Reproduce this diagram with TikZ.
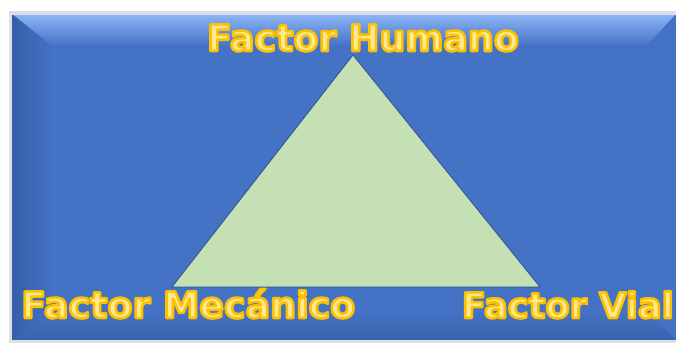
\documentclass[tikz,border=0pt]{standalone}
\usepackage{fontspec}
\setmainfont{DejaVu Sans}

\definecolor{bluebase}{HTML}{4472C4}
\definecolor{bluelight}{HTML}{8DB6F7}
\definecolor{bluedark}{HTML}{3560A8}
\definecolor{trifill}{HTML}{C5E0B4}
\definecolor{triline}{HTML}{2F528F}
\definecolor{textyellow}{HTML}{FFE98F}

% fill the glyphs and stroke them in orange
\newcommand{\glowtext}[1]{%
  \special{pdf:literal direct 2 Tr 1 0.753 0 RG 1.9 w 1 j}#1%
  \special{pdf:literal direct 0 Tr}}

\begin{document}
\begin{tikzpicture}[
  x=0.75pt, y=-0.75pt,
  every node/.style={inner sep=0pt},
  factor/.style={font=\fontsize{27.3}{28}\selectfont\bfseries, text=textyellow},
  tri/.style={fill=trifill, draw=triline, line width=0.6pt, line join=miter}]

  \useasboundingbox (0,0) rectangle (676,348);

  % panel with bevel
  \fill[black!12] (9,11) rectangle (676,343);
  \fill[bluebase] (12,14) rectangle (676,340);
  \shade[top color=bluelight, bottom color=bluebase]
    (12,14) -- (676,14) -- (646,46) -- (52,46) -- cycle;
  \shade[left color=bluedark, right color=bluebase]
    (12,14) -- (52,46) -- (52,312) -- (12,340) -- cycle;
  \shade[top color=bluebase, bottom color=bluedark!85!bluebase]
    (12,340) -- (52,312) -- (646,312) -- (676,340) -- cycle;
  \fill[white!60!bluelight] (12,14) rectangle (676,15.5);

  % corners of the triangle
  \coordinate (hum)  at (353,55);
  \coordinate (mec)  at (172,287);
  \coordinate (vial) at (540,287);

  \path[tri] (hum) -- (mec) -- (vial) -- cycle;

  % labels
  \node[factor, anchor=base]      (humano)   at (363,51)  {\glowtext{Factor Humano}};
  \node[factor, anchor=base west] (mecanico) at (21,318)  {\glowtext{Factor Mecánico}};
  \node[factor, font=\fontsize{26.4}{28}\selectfont\bfseries, anchor=base east]
    (vial-l) at (674,318) {\glowtext{Factor Vial}};
\end{tikzpicture}
\end{document}
